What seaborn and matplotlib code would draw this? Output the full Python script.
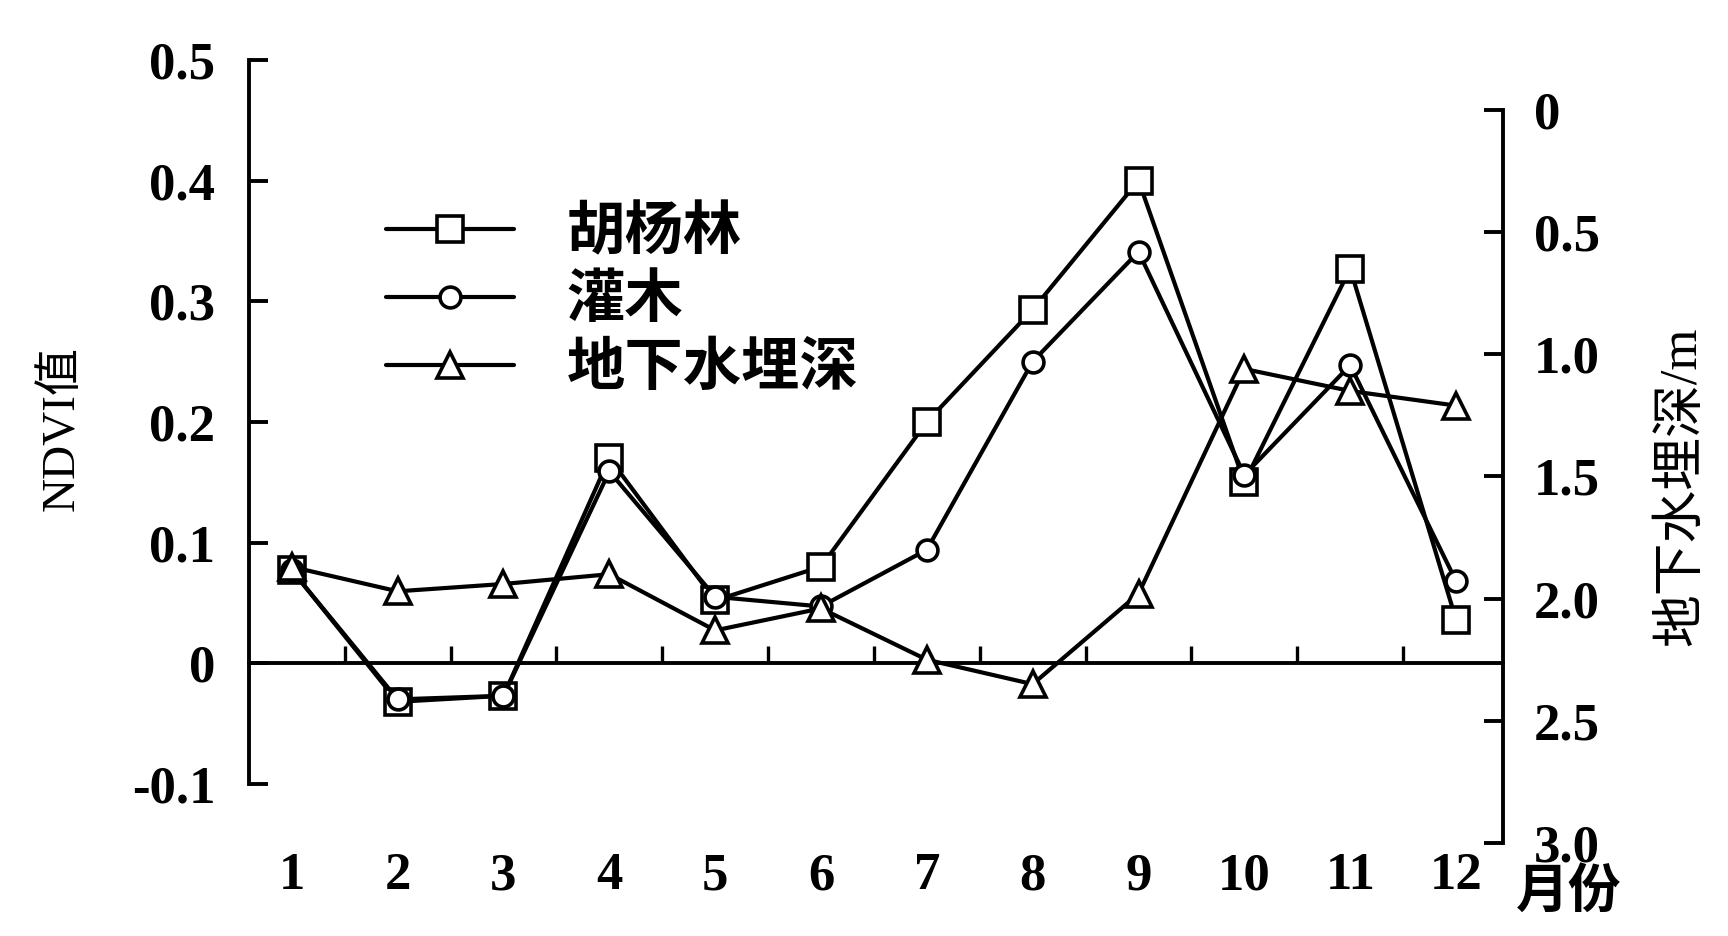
import numpy as np
import pandas as pd
import matplotlib
matplotlib.use('Agg')
import matplotlib.pyplot as plt
import seaborn as sns
from matplotlib.lines import Line2D

# ---------------- data ----------------
months = list(range(1, 13))
month_labels = [str(m) for m in months]
populus_ndvi = [0.077, -0.032, -0.027, 0.170, 0.052, 0.080, 0.200, 0.293, 0.400, 0.150, 0.327, 0.036]
shrub_ndvi = [0.077, -0.030, -0.027, 0.159, 0.055, 0.047, 0.094, 0.250, 0.341, 0.156, 0.247, 0.068]
groundwater_depth = [1.87, 1.97, 1.94, 1.90, 2.13, 2.04, 2.25, 2.35, 1.98, 1.06, 1.15, 1.21]

series_names = ['胡杨林', '灌木', '地下水埋深']
left_ticks = [-0.1, 0, 0.1, 0.2, 0.3, 0.4, 0.5]
left_tick_labels = ['-0.1', '0', '0.1', '0.2', '0.3', '0.4', '0.5']
right_ticks = [0, 0.5, 1.0, 1.5, 2.0, 2.5, 3.0]
right_tick_labels = ['0', '0.5', '1.0', '1.5', '2.0', '2.5', '3.0']
x_label = '月份'
left_label = 'NDVI值'
right_label = '地下水埋深/m'

df = pd.DataFrame({'month': months, 'populus': populus_ndvi,
                   'shrub': shrub_ndvi, 'gw': groundwater_depth})

# ---------------- style ----------------
sns.set_theme(style='white')
plt.rcParams['font.family'] = ['Liberation Serif', 'Noto Sans CJK SC', 'DejaVu Sans']
plt.rcParams['font.weight'] = 'bold'
plt.rcParams['axes.unicode_minus'] = False

fig = plt.figure(figsize=(17.28, 9.36), dpi=100)
fig.patch.set_facecolor('white')
ax = fig.add_axes([0.144, 0.0994, 0.870 - 0.144, 0.936 - 0.0994])
ax2 = ax.twinx()

lw = 3.0
mew = 2.6
common = dict(color='black', linewidth=lw, markerfacecolor='white',
              markeredgecolor='black', markeredgewidth=mew)

sns.lineplot(data=df, x='month', y='populus', ax=ax, marker='s', markersize=19, **common)
sns.lineplot(data=df, x='month', y='shrub', ax=ax, marker='o', markersize=15, **common)
sns.lineplot(data=df, x='month', y='gw', ax=ax2, marker='^', markersize=19, **common)

ax.set_xlim(0.594, 12.447)
ax.set_ylim(-0.149, 0.5)
ax2.set_ylim(3.0, -0.205)

# spines
for s in ['top', 'right']:
    ax.spines[s].set_visible(False)
for s in ['top', 'left', 'bottom']:
    ax2.spines[s].set_visible(False)
for sp in [ax.spines['left'], ax.spines['bottom'], ax2.spines['right']]:
    sp.set_color('black')
    sp.set_linewidth(2.8)
ax.spines['left'].set_bounds(-0.1, 0.5)
ax.spines['bottom'].set_position(('data', 0))
ax2.spines['right'].set_bounds(0, 3.0)

# left ticks
ax.set_yticks(left_ticks, labels=left_tick_labels)
ax.tick_params(axis='y', which='major', direction='in', length=14, width=2.8,
               pad=24, labelsize=38, left=True, colors='black')
# x ticks: boundaries as tick marks, months as labels
ax.set_xticks([m + 0.5 for m in months[:-1]])
ax.set_xticklabels([])
ax.set_xticks(months, labels=month_labels, minor=True)
ax.tick_params(axis='x', which='major', direction='in', length=12, width=2.4,
               bottom=True, colors='black')
ax.tick_params(axis='x', which='minor', length=0, pad=136, labelsize=38,
               bottom=True, labelcolor='black')

# right ticks
ax2.set_yticks(right_ticks, labels=right_tick_labels)
ax2.tick_params(axis='y', which='major', direction='in', length=14, width=2.8,
                pad=22, labelsize=38, right=True, colors='black')

ax.set_xlabel('')
ax.set_ylabel(left_label, fontsize=34, color='black')
ax.yaxis.set_label_coords(-0.132, 0.53)
ax2.set_ylabel(right_label, fontsize=38, color='black', rotation=90)
ax2.yaxis.set_label_coords(1.123, 0.455)

fig.text(0.877, 0.046, x_label, fontsize=38, ha='left', va='center', color='black')

# legend
handles = [
    Line2D([], [], marker='s', markersize=19, **common),
    Line2D([], [], marker='o', markersize=15, **common),
    Line2D([], [], marker='^', markersize=19, **common),
]
leg = ax.legend(handles, series_names, loc='upper left', bbox_to_anchor=(0.109, 0.814),
                frameon=False, fontsize=42, handlelength=2.2, handletextpad=0.9,
                labelspacing=0.23, borderpad=0, borderaxespad=0)
for t in leg.get_texts():
    t.set_color('black')

fig.savefig('out.png', dpi=100, facecolor='white')
